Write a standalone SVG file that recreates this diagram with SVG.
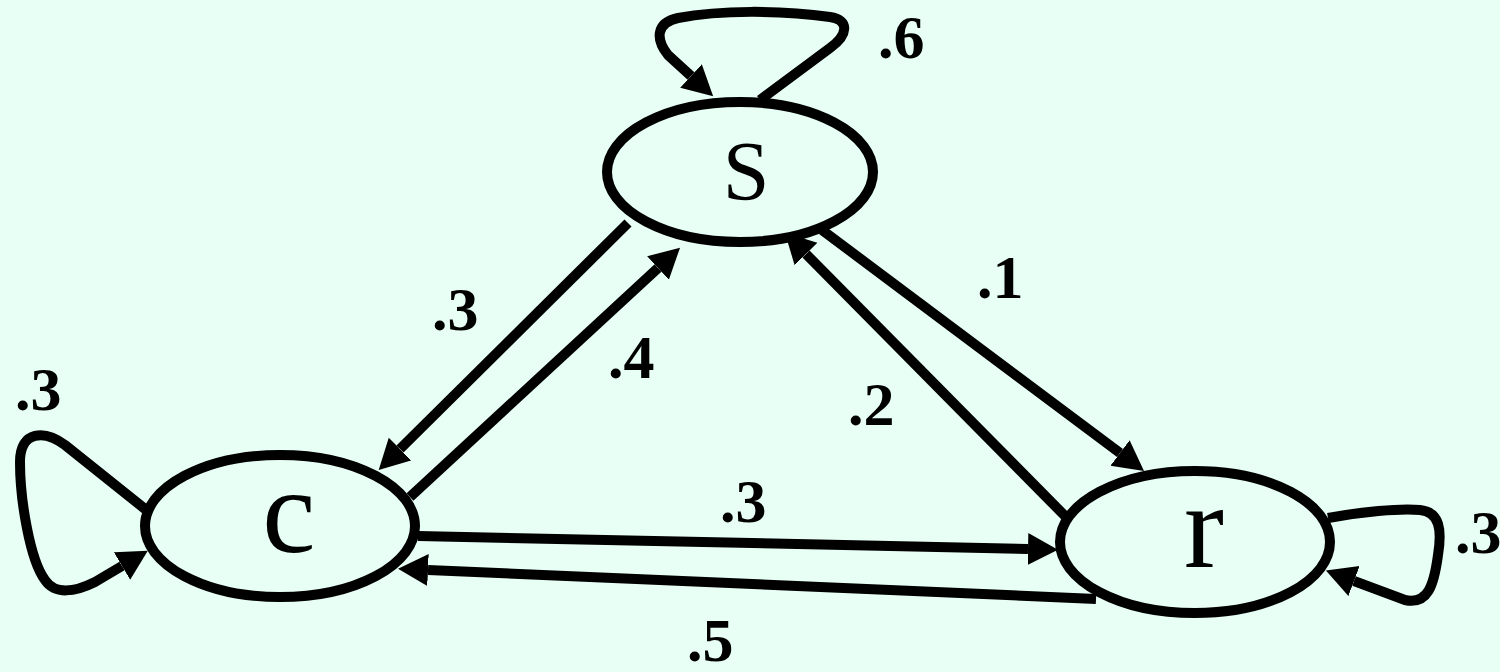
<svg xmlns="http://www.w3.org/2000/svg" width="1500" height="672" viewBox="0 0 1500 672">
<style>
.node{fill:none;stroke:#000;stroke-width:10}
.edge{fill:none;stroke:#000;stroke-width:10;stroke-linejoin:round;stroke-linecap:butt}
.nl{font-family:"Liberation Serif","Times New Roman",Times,serif;fill:#000;text-anchor:middle}
.el{font-family:"Liberation Serif","Times New Roman",Times,serif;font-weight:bold;font-size:62px;fill:#000}
</style>
<defs>
<marker id="ah" markerUnits="userSpaceOnUse" markerWidth="34" markerHeight="34" refX="0" refY="16" orient="auto" viewBox="0 0 34 34">
<path d="M0,0 L30,16 L0,32 z" fill="#000"/>
</marker>
</defs>
<rect x="0" y="0" width="1500" height="672" fill="#E8FFF5"/>
<g id="connectors">
<path class="edge" d="M628 223 L400 449" marker-end="url(#ah)"/>
<path class="edge" d="M410 497 L658 268" marker-end="url(#ah)"/>
<path class="edge" d="M822 230 L1120 453" marker-end="url(#ah)"/>
<path class="edge" d="M1068 519 L806 254" marker-end="url(#ah)"/>
<path class="edge" d="M418 536 L1028 549" marker-end="url(#ah)"/>
<path class="edge" d="M1096 599 L428 570" marker-end="url(#ah)"/>
<path class="edge" d="M760 100 L830 48 C848 35 850 20 830 17 C780 10 720 10 678 18 C655 23 656 40 668 55 L691 76" marker-end="url(#ah)"/>
<path class="edge" d="M150 513 L65 445 C45 430 20 430 20 462 C20 500 30 560 45 580 C55 595 75 592 95 582 L122 566" marker-end="url(#ah)"/>
<path class="edge" d="M1328 518 C1360 512 1400 508 1420 510 C1440 512 1442 530 1438 555 C1434 585 1428 605 1405 600 L1354 581" marker-end="url(#ah)"/>
<text class="el" x="878" y="58">.6</text>
<text class="el" x="432" y="330">.3</text>
<text class="el" x="608" y="378">.4</text>
<text class="el" x="977" y="298">.1</text>
<text class="el" x="848" y="425">.2</text>
<text class="el" x="720" y="522">.3</text>
<text class="el" x="687" y="661">.5</text>
<text class="el" x="15" y="410">.3</text>
<text class="el" x="1455" y="553">.3</text>
</g>
<g id="node-s">
<ellipse class="node" cx="740" cy="172" rx="133" ry="70"/>
<text class="nl" x="746" y="200" font-size="84">S</text>
</g>
<g id="node-c">
<ellipse class="node" cx="280" cy="526" rx="135" ry="71"/>
<text class="nl" x="289" y="552" font-size="120">c</text>
</g>
<g id="node-r">
<ellipse class="node" cx="1195" cy="542" rx="135" ry="71"/>
<text class="nl" x="1204" y="567" font-size="120">r</text>
</g>
</svg>
